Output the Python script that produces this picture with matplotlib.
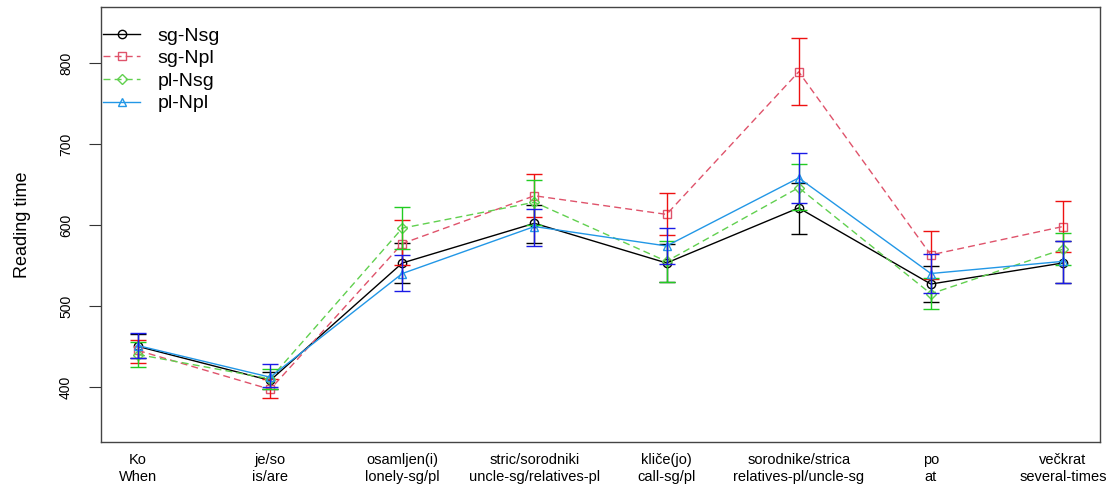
import matplotlib
matplotlib.use("Agg")
import matplotlib.pyplot as plt
import numpy as np

plt.rcParams['font.family'] = ['Liberation Sans', 'DejaVu Sans']

categories = ["Ko\nWhen", "je/so\nis/are", "osamljen(i)\nlonely-sg/pl",
              "stric/sorodniki\nuncle-sg/relatives-pl", "kliče(jo)\ncall-sg/pl",
              "sorodnike/strica\nrelatives-pl/uncle-sg", "po\nat",
              "večkrat\nseveral-times"]

sg_Nsg = [450, 408, 553, 602, 553, 621, 527, 553]
sg_Nsg_lo = [436, 398, 528, 578, 530, 589, 505, 528]
sg_Nsg_hi = [465, 418, 578, 625, 576, 652, 549, 580]

sg_Npl = [445, 397, 577, 636, 613, 789, 563, 598]
sg_Npl_lo = [430, 386, 550, 610, 588, 748, 533, 566]
sg_Npl_hi = [458, 410, 606, 663, 640, 831, 592, 630]

pl_Nsg = [440, 410, 596, 628, 555, 646, 515, 570]
pl_Nsg_lo = [425, 398, 570, 600, 530, 618, 496, 550]
pl_Nsg_hi = [455, 422, 622, 655, 580, 675, 535, 590]

pl_Npl = [451, 412, 540, 598, 574, 658, 540, 555]
pl_Npl_lo = [436, 400, 518, 574, 552, 627, 516, 528]
pl_Npl_hi = [466, 428, 563, 620, 596, 689, 564, 580]

series = [
    ("sg-Nsg", sg_Nsg, sg_Nsg_lo, sg_Nsg_hi, "black", "black", "-", "o"),
    ("sg-Npl", sg_Npl, sg_Npl_lo, sg_Npl_hi, "#DF536B", "#ee1111", "--", "s"),
    ("pl-Nsg", pl_Nsg, pl_Nsg_lo, pl_Nsg_hi, "#61D04F", "#22cc22", "--", "D"),
    ("pl-Npl", pl_Npl, pl_Npl_lo, pl_Npl_hi, "#2297E6", "#1a1ae6", "-", "^"),
]

fig = plt.figure(figsize=(11.14, 4.91), dpi=100)
ax = fig.add_axes([0.0907, 0.0998, 0.8967, 0.8859])

x = np.arange(1, len(categories) + 1)
handles = []
for name, vals, lo, hi, lc, ec, ls, mk in series:
    vals = np.array(vals); lo = np.array(lo); hi = np.array(hi)
    ms = 6 if mk != "D" else 5
    h, = ax.plot(x, vals, color=lc, linestyle=ls, linewidth=1.0, marker=mk,
                 markersize=ms, markerfacecolor='none', markeredgecolor=lc,
                 markeredgewidth=1.0, label=name)
    if ls == "--":
        h.set_dashes((5, 3))
    handles.append(h)
    ax.errorbar(x, vals, yerr=[vals - lo, hi - vals], fmt='none', ecolor=ec,
                elinewidth=1.0, capsize=6, capthick=1.0)

ax.set_xlim(0.72, 8.28)
ax.set_ylim(332, 869)
ax.set_yticks([400, 500, 600, 700, 800])
ax.set_yticklabels(["400", "500", "600", "700", "800"], rotation=90, va='center', fontsize=10)
ax.set_xticks(x)
ax.set_xticklabels(categories, fontsize=10.5, linespacing=1.25)
ax.tick_params(axis='x', length=0, pad=8)
ax.tick_params(axis='y', length=8.6, pad=11.5, direction='out', color='#333333')
for s in ax.spines.values():
    s.set_color('#444444')
    s.set_linewidth(1.0)
ax.set_ylabel("Reading time", fontsize=13)
ax.yaxis.set_label_coords(-0.070, 0.5)

leg = ax.legend(handles=handles, loc='upper left', bbox_to_anchor=(0.002, 0.954),
                frameon=False, fontsize=14, handlelength=1.9, handletextpad=0.9,
                labelspacing=0.255, borderpad=0, borderaxespad=0)

fig.savefig("out.png", dpi=100)
